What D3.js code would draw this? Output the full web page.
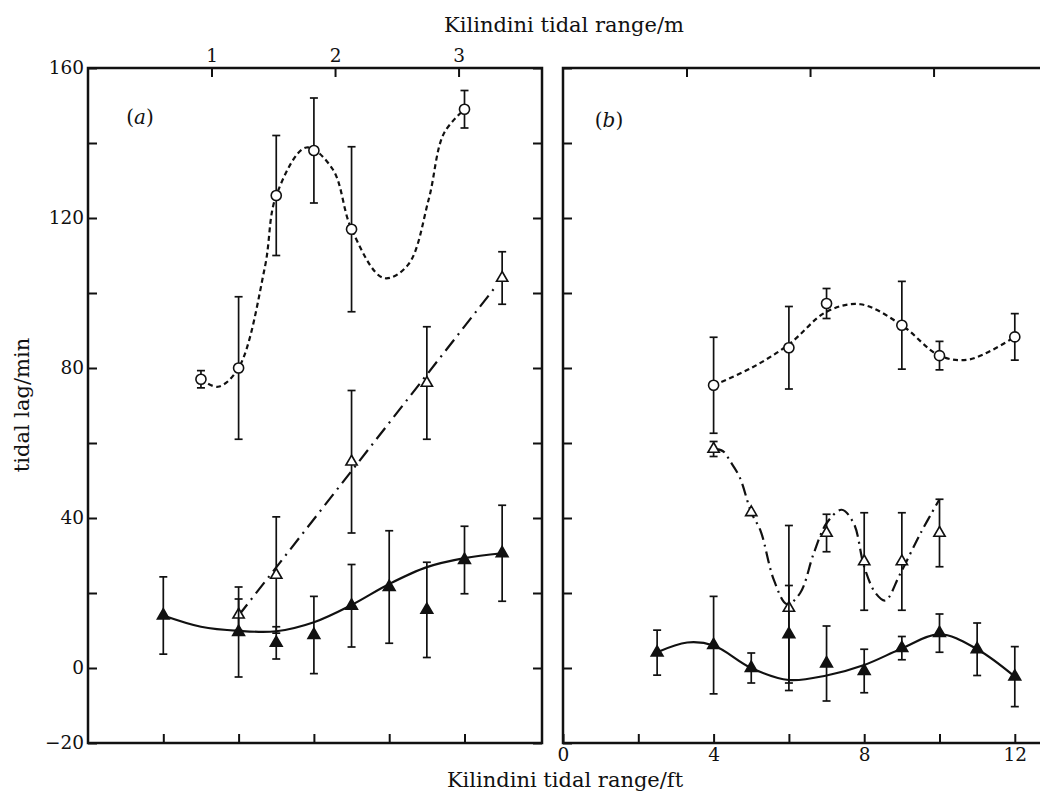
<!DOCTYPE html>
<html>
<head>
<meta charset="utf-8">
<script src="https://cdn.jsdelivr.net/npm/d3@7"></script>
<style>
    body { margin: 0; background: #fff; }
    text { font-family: "DejaVu Serif", serif; fill: #111; }
</style>
</head>
<body>
<svg id="chart" width="1040" height="795"></svg>
<script>
// ---- panel (a) ----
const aCircX = [3, 4, 5, 6, 7, 10];
const aCircY = [77, 80, 126, 138, 117, 149];
const aCircErr = [2.3, 19, 16, 14, 22, 5];
const aCircFitX = [3, 3.45, 4, 4.7, 5, 5.8, 6.5, 7, 7.85, 8.5, 9.05, 9.45, 10];
const aCircFitY = [77, 75, 80, 107, 126, 138.8, 133, 117, 104, 107.5, 125, 142.5, 149];

const aOpenTriX = [4, 5, 7, 9, 11];
const aOpenTriY = [14.2, 24.8, 55, 76, 104];
const aOpenTriErr = [4.2, 15.5, 19, 15, 7];
const aOpenFitX = [4, 10.85];
const aOpenFitY = [14, 102];

const aFillTriX = [2, 4, 5, 6, 7, 8, 9, 10, 11];
const aFillTriY = [14, 9.6, 6.7, 8.8, 16.6, 21.6, 15.5, 28.8, 30.6];
const aFillTriErr = [10.3, 12, 4.3, 10.3, 11, 15, 12.7, 9, 12.8];
const aFillFitX = [2, 3, 4, 5, 6, 7, 8, 9, 10, 11];
const aFillFitY = [14, 11, 9.9, 9.8, 12.2, 16.8, 22.4, 26.9, 29.3, 30.6];

// ---- panel (b) ----
const bCircX = [4, 6, 7, 9, 10, 12];
const bCircY = [75.4, 85.4, 97.2, 91.4, 83.3, 88.3];
const bCircErr = [12.8, 11, 4, 11.7, 3.8, 6.2];
const bCircFitX = [4, 5, 6, 7, 7.9, 9, 10, 10.8, 12];
const bCircFitY = [75.4, 80, 86.3, 95, 97, 91.4, 83.3, 82.3, 88.3];

const bOpenTriX = [4, 5, 6, 7, 8, 9, 10];
const bOpenTriY = [58.4, 41.5, 16, 36, 28.4, 28.4, 36];
const bOpenTriErr = [2, 0, 22, 5, 13, 13, 9];
const bOpenFitX = [4, 4.25, 4.45, 4.7, 5, 5.25, 5.6, 5.95, 6.3, 6.66, 7, 7.4, 7.72, 8, 8.3, 8.56, 8.95, 9.5, 10];
const bOpenFitY = [58.5, 57.8, 55, 50.7, 41.5, 36.5, 23.5, 17, 20, 30.6, 38.6, 42.2, 38.6, 27, 20, 18, 25, 36, 45];

const bFillTriX = [2.5, 4, 5, 6, 7, 8, 9, 10, 11, 12];
const bFillTriY = [4.1, 6.1, 0, 9, 1.2, -0.8, 5.3, 9.3, 5, -2.3];
const bFillTriErr = [6, 13, 4, 13, 10, 5.8, 3.1, 5.1, 7, 8];
const bFillFitX = [2.5, 3.3, 4, 5, 6, 7, 8, 9, 10, 11, 12];
const bFillFitY = [4.2, 6.8, 6, 0, -3.2, -2, 0.8, 5.2, 9, 5, -2.3];

// ---- ticks ----
const yTicks = [-20, 0, 20, 40, 60, 80, 100, 120, 140, 160];
const yLabels = [-20, 0, 40, 80, 120, 160];
const mTicks = [1, 2, 3];
const aFtTicks = [2, 4, 6, 8, 10];
const bFtTicks = [0, 2, 4, 6, 8, 10, 12];
const bFtLabels = [0, 4, 8, 12];

const FT_PER_M = 3.2808;
const PX_PER_FT = 37.65;
const yTop = 68, yBottom = 743;

const svg = d3.select('#chart');
const y = d3.scaleLinear().domain([-20, 160]).range([yBottom, yTop]);

function zip(xs, ys, es) {
    return xs.map((x, i) => ({ x: x, y: ys[i], e: es ? es[i] : 0 }));
}

function styleAxis(g) {
    g.select('.domain').remove();
    g.selectAll('.tick line').attr('stroke', '#111').attr('stroke-width', 2);
    g.attr('font-family', '"DejaVu Serif", serif').attr('font-size', 18.5);
}

function drawPanel(p) {
    const x = d3.scaleLinear()
        .domain([0, (p.x1 - p.x0) / PX_PER_FT])
        .range([p.x0, p.x1]);
    const xm = d3.scaleLinear()
        .domain([0, (p.x1 - p.x0) / PX_PER_FT / FT_PER_M])
        .range([p.x0, p.x1]);

    const g = svg.append('g');

    // left ticks
    g.append('g')
        .attr('transform', `translate(${p.x0},0)`)
        .call(d3.axisLeft(y).tickValues(yTicks).tickSize(-9).tickPadding(4)
            .tickFormat(d => (p.yLabels && yLabels.includes(d)) ? d3.format('')(d) : ''))
        .call(styleAxis);

    // right ticks
    if (p.rightTicks) {
        g.append('g')
            .attr('transform', `translate(${p.x1},0)`)
            .call(d3.axisRight(y).tickValues(yTicks).tickSize(-9).tickFormat(''))
            .call(styleAxis);
    }

    // top ticks in metres
    g.append('g')
        .attr('transform', `translate(0,${yTop})`)
        .call(d3.axisTop(xm).tickValues(mTicks).tickSize(-9).tickPadding(6)
            .tickFormat(d => p.mLabels ? d : ''))
        .call(styleAxis);

    // bottom ticks in feet
    g.append('g')
        .attr('transform', `translate(0,${yBottom})`)
        .call(d3.axisBottom(x).tickValues(p.ftTicks).tickSize(-9).tickPadding(5)
            .tickFormat(d => (p.ftLabels && p.ftLabels.includes(d)) ? d : ''))
        .call(styleAxis);

    // frame
    g.append('rect')
        .attr('x', p.x0)
        .attr('y', yTop)
        .attr('width', p.x1 - p.x0)
        .attr('height', yBottom - yTop)
        .attr('fill', 'none')
        .attr('stroke', '#111')
        .attr('stroke-width', 2.5);

    g.append('text')
        .attr('x', p.tagX)
        .attr('y', p.tagY)
        .attr('font-size', 20)
        .attr('text-anchor', 'middle')
        .html(`(<tspan font-style="italic">${p.tag}</tspan>)`);

    p.series.forEach(s => {
        const line = d3.line()
            .x(d => x(d.x))
            .y(d => y(d.y))
            .curve(s.fit.length > 2 ? d3.curveCatmullRom.alpha(0.5) : d3.curveLinear);

        g.append('path')
            .datum(s.fit)
            .attr('d', line)
            .attr('fill', 'none')
            .attr('stroke', '#111')
            .attr('stroke-width', 2.2)
            .attr('stroke-dasharray', s.dash);

        const bars = g.append('g')
            .selectAll('g')
            .data(s.points.filter(d => d.e > 0))
            .enter()
            .append('g')
            .attr('stroke', '#111')
            .attr('stroke-width', 1.7);
        bars.append('line')
            .attr('x1', d => x(d.x)).attr('x2', d => x(d.x))
            .attr('y1', d => y(d.y - d.e)).attr('y2', d => y(d.y + d.e));
        bars.append('line')
            .attr('x1', d => x(d.x) - 4).attr('x2', d => x(d.x) + 4)
            .attr('y1', d => y(d.y + d.e)).attr('y2', d => y(d.y + d.e));
        bars.append('line')
            .attr('x1', d => x(d.x) - 4).attr('x2', d => x(d.x) + 4)
            .attr('y1', d => y(d.y - d.e)).attr('y2', d => y(d.y - d.e));

        const marks = g.append('g')
            .selectAll('path')
            .data(s.points)
            .enter()
            .append('path')
            .attr('transform', d => `translate(${x(d.x)},${y(d.y)})`)
            .attr('stroke', '#111')
            .attr('stroke-width', 1.6);

        if (s.marker === 'circle') {
            marks.attr('d', d3.symbol(d3.symbolCircle, 80)).attr('fill', '#fff');
        } else if (s.marker === 'openTri') {
            marks.attr('d', d3.symbol(d3.symbolTriangle, 55)).attr('fill', '#fff');
        } else {
            marks.attr('d', d3.symbol(d3.symbolTriangle, 60)).attr('fill', '#111');
        }
    });
}

drawPanel({
    x0: 88, x1: 542,
    yLabels: true, rightTicks: true, mLabels: true,
    ftTicks: aFtTicks, ftLabels: null,
    tag: 'a', tagX: 140, tagY: 124,
    series: [
        { marker: 'circle', points: zip(aCircX, aCircY, aCircErr), fit: zip(aCircFitX, aCircFitY), dash: '5,3.5' },
        { marker: 'openTri', points: zip(aOpenTriX, aOpenTriY, aOpenTriErr), fit: zip(aOpenFitX, aOpenFitY), dash: '14,6,2,6' },
        { marker: 'fillTri', points: zip(aFillTriX, aFillTriY, aFillTriErr), fit: zip(aFillFitX, aFillFitY), dash: null }
    ]
});

drawPanel({
    x0: 563, x1: 1050,
    yLabels: false, rightTicks: false, mLabels: false,
    ftTicks: bFtTicks, ftLabels: bFtLabels,
    tag: 'b', tagX: 609, tagY: 127,
    series: [
        { marker: 'circle', points: zip(bCircX, bCircY, bCircErr), fit: zip(bCircFitX, bCircFitY), dash: '5,3.5' },
        { marker: 'openTri', points: zip(bOpenTriX, bOpenTriY, bOpenTriErr), fit: zip(bOpenFitX, bOpenFitY), dash: '12,5,2,5' },
        { marker: 'fillTri', points: zip(bFillTriX, bFillTriY, bFillTriErr), fit: zip(bFillFitX, bFillFitY), dash: null }
    ]
});

// axis titles
svg.append('text')
    .attr('x', 564)
    .attr('y', 32)
    .attr('text-anchor', 'middle')
    .attr('font-size', 21)
    .text('Kilindini tidal range/m');

svg.append('text')
    .attr('x', 565)
    .attr('y', 787)
    .attr('text-anchor', 'middle')
    .attr('font-size', 21)
    .text('Kilindini tidal range/ft');

svg.append('text')
    .attr('transform', 'translate(29,405) rotate(-90)')
    .attr('text-anchor', 'middle')
    .attr('font-size', 21)
    .text('tidal lag/min');
</script>
</body>
</html>
